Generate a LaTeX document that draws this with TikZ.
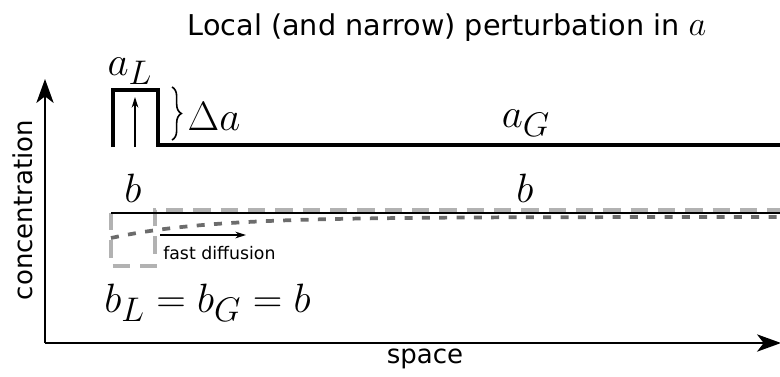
\RequirePackage{fix-cm}
\documentclass[tikz,border=0pt]{standalone}
\usepackage{graphicx}
\usepackage[no-math]{fontspec}
\setmainfont{DejaVu Sans}
\usetikzlibrary{arrows.meta,decorations.pathreplacing}
\definecolor{boxgray}{RGB}{178,178,178}
\definecolor{curvegray}{RGB}{108,108,108}
\newcommand{\biglabel}[1]{\scalebox{1.235}{$#1$}}

\begin{document}
\begin{tikzpicture}[x=0.75pt,y=-0.75pt,line join=miter,
  axis/.style={line width=1.1pt,-{Stealth[length=18pt,width=13pt,inset=5pt]}},
  profile/.style={line width=2.3pt},
  thin arrow/.style={line width=0.9pt,-{Stealth[length=8pt,width=5pt]}},
  mathlabel/.style={font=\fontsize{24.88}{28}\selectfont,inner sep=0pt,anchor=base},
  axislabel/.style={font=\fontsize{19.5}{22}\selectfont,inner sep=0pt,anchor=base}]
\useasboundingbox (0,0) rectangle (780,376);
% title
\node[font=\fontsize{21.5}{24}\selectfont,inner sep=0pt,anchor=base] (title) at (447,35) {Local (and narrow) perturbation in \scalebox{1.2}{$a$}};
% axes
\coordinate (origin) at (45,343);
\coordinate (ytip) at (45,79);
\coordinate (xtip) at (781,343);
\draw[axis] (origin) -- (ytip);
\draw[axis] (origin) -- (xtip);
\node[axislabel,rotate=90] (ylabel) at (32,210) {concentration};
\node[axislabel] (xlabel) at (425,363) {space};
% concentration of a
\draw[profile] (113,147) -- (113,90) -- (158,90) -- (158,145) -- (780,145);
\coordinate (kickbot) at (135,147);
\coordinate (kicktop) at (135,97);
\draw[thin arrow] (kickbot) -- (kicktop);
\draw[decorate,decoration={brace,amplitude=7pt},line width=1.2pt] (172,87) -- (172,140);
\node[mathlabel] (aL) at (130,75) {\biglabel{a_L}};
\node[mathlabel] (dA) at (214,130) {\biglabel{\Delta a}};
\node[mathlabel] (aG) at (526,127) {\biglabel{a_G}};
% concentration of b
\draw[boxgray,line width=2.8pt,dash pattern=on 13pt off 7.5pt] (111,213) -- (111,266) -- (155,266) -- (155,210) -- (780,210);
\draw[curvegray,line width=2.8pt,dash pattern=on 6pt off 7pt,domain=111:780,samples=80] plot (\x,{217+21*exp(-(\x-111)/95)});
\draw[line width=1.1pt] (111,213) -- (780,213);
\node[mathlabel] (bleft) at (133,202) {\biglabel{b}};
\node[mathlabel] (bright) at (525,202) {\biglabel{b}};
\coordinate (fastfrom) at (160,235);
\coordinate (fastto) at (246,235);
\draw[thin arrow] (fastfrom) -- (fastto);
\node[font=\fontsize{13}{15}\selectfont,inner sep=0pt,anchor=base west] (fast) at (163,259) {fast diffusion};
\node[mathlabel,anchor=base west] (beq) at (104,312) {\biglabel{b_L = b_G = b}};
\end{tikzpicture}
\end{document}
